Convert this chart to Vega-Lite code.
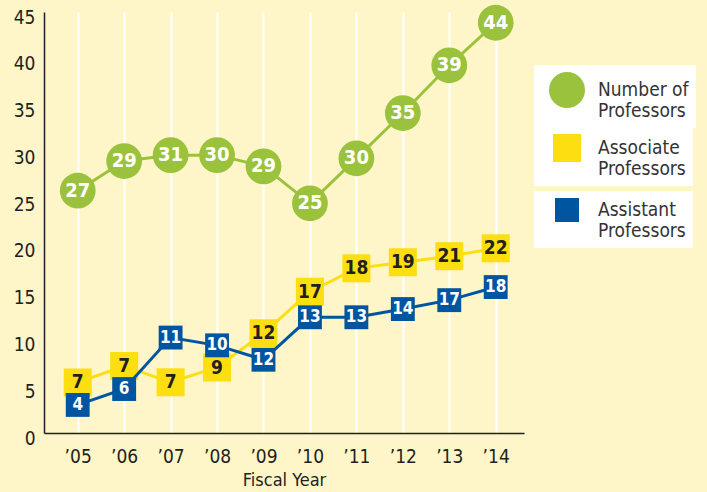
{
  "$schema": "https://vega.github.io/schema/vega-lite/v6.json",
  "width": 480,
  "height": 421,
  "autosize": {"type": "none"},
  "padding": {"left": 44, "top": 12, "right": 183, "bottom": 59},
  "background": "#FEF6C9",
  "config": {
    "view": {"stroke": null},
    "font": "Liberation Sans Narrow, DejaVu Sans Condensed, Roboto, sans-serif",
    "legend": {
      "orient": "none",
      "fillColor": "white",
      "padding": 7,
      "title": null,
      "labelFont": "Liberation Sans Narrow, DejaVu Sans Condensed, Roboto, sans-serif",
      "labelFontSize": 19,
      "labelColor": "#333333",
      "labelLineHeight": 22,
      "labelLimit": 300,
      "symbolOpacity": 1,
      "symbolStrokeWidth": 0
    }
  },
  "datasets": {
    "prof": [
      {"year": 2005, "series": "Number of Professors", "plotted": 25.9, "count": 27},
      {"year": 2006, "series": "Number of Professors", "plotted": 29.07, "count": 29},
      {"year": 2007, "series": "Number of Professors", "plotted": 29.7, "count": 31},
      {"year": 2008, "series": "Number of Professors", "plotted": 29.7, "count": 30},
      {"year": 2009, "series": "Number of Professors", "plotted": 28.5, "count": 29},
      {"year": 2010, "series": "Number of Professors", "plotted": 24.55, "count": 25},
      {"year": 2011, "series": "Number of Professors", "plotted": 29.36, "count": 30},
      {"year": 2012, "series": "Number of Professors", "plotted": 34.2, "count": 35},
      {"year": 2013, "series": "Number of Professors", "plotted": 39.3, "count": 39},
      {"year": 2014, "series": "Number of Professors", "plotted": 43.85, "count": 44}
    ],
    "assoc": [
      {"year": 2005, "series": "Associate Professors", "plotted": 5.4, "count": 7},
      {"year": 2006, "series": "Associate Professors", "plotted": 7.16, "count": 7},
      {"year": 2007, "series": "Associate Professors", "plotted": 5.42, "count": 7},
      {"year": 2008, "series": "Associate Professors", "plotted": 7.0, "count": 9},
      {"year": 2009, "series": "Associate Professors", "plotted": 10.66, "count": 12},
      {"year": 2010, "series": "Associate Professors", "plotted": 15.1, "count": 17},
      {"year": 2011, "series": "Associate Professors", "plotted": 17.6, "count": 18},
      {"year": 2012, "series": "Associate Professors", "plotted": 18.25, "count": 19},
      {"year": 2013, "series": "Associate Professors", "plotted": 18.9, "count": 21},
      {"year": 2014, "series": "Associate Professors", "plotted": 19.74, "count": 22}
    ],
    "asst": [
      {"year": 2005, "series": "Assistant Professors", "plotted": 3.0, "count": 4},
      {"year": 2006, "series": "Assistant Professors", "plotted": 4.7, "count": 6},
      {"year": 2007, "series": "Assistant Professors", "plotted": 10.2, "count": 11},
      {"year": 2008, "series": "Assistant Professors", "plotted": 9.37, "count": 10},
      {"year": 2009, "series": "Assistant Professors", "plotted": 7.83, "count": 12},
      {"year": 2010, "series": "Assistant Professors", "plotted": 12.37, "count": 13},
      {"year": 2011, "series": "Assistant Professors", "plotted": 12.37, "count": 13},
      {"year": 2012, "series": "Assistant Professors", "plotted": 13.25, "count": 14},
      {"year": 2013, "series": "Assistant Professors", "plotted": 14.2, "count": 17},
      {"year": 2014, "series": "Assistant Professors", "plotted": 15.6, "count": 18}
    ]
  },
  "encoding": {
    "x": {
      "field": "year",
      "type": "quantitative",
      "scale": {"domain": [2004.274, 2014.609], "nice": false, "zero": false},
      "axis": {
        "values": [2005, 2006, 2007, 2008, 2009, 2010, 2011, 2012, 2013, 2014],
        "labelExpr": "'’' + slice(toString(datum.value), 2)",
        "title": "Fiscal Year",
        "titleFontSize": 18,
        "titleFontWeight": "normal",
        "titleColor": "#231F20",
        "titlePadding": 5,
        "labelFontSize": 19,
        "labelColor": "#231F20",
        "labelPadding": 14,
        "ticks": false,
        "grid": true,
        "gridColor": "white",
        "gridWidth": 2,
        "gridOpacity": 1,
        "domainColor": "#231F20",
        "domainWidth": 1.5
      }
    },
    "y": {
      "field": "plotted",
      "type": "quantitative",
      "scale": {"domain": [0, 45], "nice": false},
      "axis": {
        "values": [0, 5, 10, 15, 20, 25, 30, 35, 40, 45],
        "title": null,
        "labelFontSize": 19,
        "labelColor": "#231F20",
        "labelPadding": 9,
        "labelOffset": 5,
        "ticks": false,
        "grid": false,
        "domainColor": "#231F20",
        "domainWidth": 1.5
      }
    }
  },
  "layer": [
    {"data": {"name": "prof"}, "mark": {"type": "line", "color": "#9BC23C", "strokeWidth": 3}},
    {
      "data": {"name": "prof"},
      "mark": {"type": "point", "shape": "circle", "filled": true, "size": 1280, "opacity": 1, "strokeWidth": 0},
      "encoding": {
        "color": {
          "field": "series", "type": "nominal",
          "scale": {"range": ["#9BC23C"]},
          "legend": {"legendX": 490, "legendY": 53, "symbolType": "circle", "symbolSize": 1296, "symbolOffset": 8, "labelOffset": 13, "labelExpr": "['Number of', 'Professors\u00a0\u00a0\u00a0\u00a0\u00a0']"}
        }
      }
    },
    {"data": {"name": "prof"}, "mark": {"type": "text", "color": "white", "fontSize": 20, "fontWeight": "bold", "baseline": "middle", "align": "center"}, "encoding": {"text": {"field": "count", "type": "quantitative"}}},
    {"data": {"name": "assoc"}, "mark": {"type": "line", "color": "#FDDE10", "strokeWidth": 3}},
    {
      "data": {"name": "assoc"},
      "mark": {"type": "point", "shape": "square", "filled": true, "size": 784, "opacity": 1, "strokeWidth": 0},
      "encoding": {
        "color": {
          "field": "series", "type": "nominal",
          "scale": {"range": ["#FDDE10"]},
          "legend": {"legendX": 490, "legendY": 115, "symbolType": "square", "symbolSize": 784, "symbolOffset": 12, "labelOffset": 17, "labelExpr": "['Associate', 'Professors\u00a0\u00a0\u00a0\u00a0\u00a0']"}
        }
      }
    },
    {"data": {"name": "assoc"}, "mark": {"type": "text", "color": "#231F20", "fontSize": 19, "fontWeight": "bold", "baseline": "middle", "align": "center"}, "encoding": {"text": {"field": "count", "type": "quantitative"}}},
    {"data": {"name": "asst"}, "mark": {"type": "line", "color": "#0055A0", "strokeWidth": 3}},
    {
      "data": {"name": "asst"},
      "mark": {"type": "point", "shape": "square", "filled": true, "size": 570, "opacity": 1, "strokeWidth": 0},
      "encoding": {
        "color": {
          "field": "series", "type": "nominal",
          "scale": {"range": ["#0055A0"]},
          "legend": {"legendX": 490, "legendY": 179, "symbolType": "square", "symbolSize": 576, "symbolOffset": 14, "labelOffset": 19, "labelExpr": "['Assistant', 'Professors\u00a0\u00a0\u00a0\u00a0\u00a0']"}
        }
      }
    },
    {"data": {"name": "asst"}, "mark": {"type": "text", "color": "white", "fontSize": 17, "fontWeight": "bold", "baseline": "middle", "align": "center"}, "encoding": {"text": {"field": "count", "type": "quantitative"}}}
  ],
  "resolve": {"scale": {"color": "independent"}, "legend": {"color": "independent"}}
}
